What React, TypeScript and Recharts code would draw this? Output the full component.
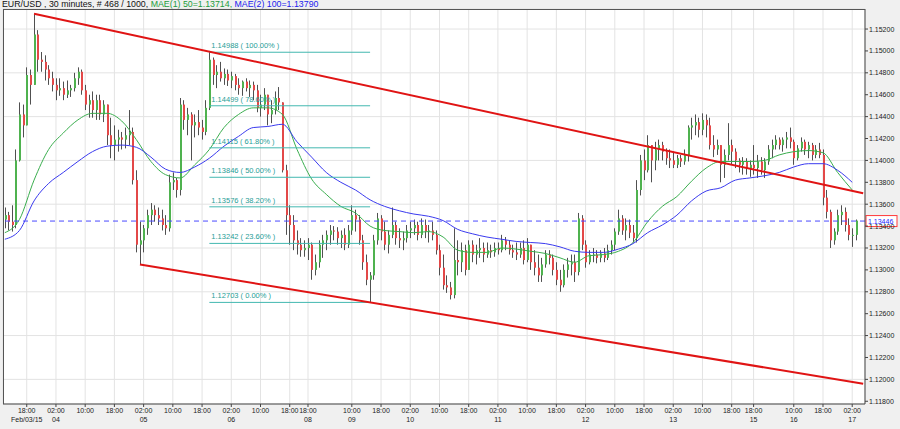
import React from "react";
import {
  ComposedChart,
  Bar,
  Line,
  XAxis,
  YAxis,
  CartesianGrid,
  ReferenceLine,
} from "recharts";

const FONT = "'Liberation Sans', Arial, sans-serif";

// hourly candles, slot 0 = Feb 03 12:00 (open of first bar, then open = previous close)
const firstOpen = 1.1346;

const closes = [
  1.1350, 1.1344, 1.1341, 1.1400, 1.1442, 1.1432, 1.1478, 1.1469, 1.1515, 1.1492,
  1.1490, 1.1483, 1.1475, 1.1469, 1.1464, 1.1466, 1.1460, 1.1464, 1.1466, 1.1475,
  1.1481, 1.1464, 1.1451, 1.1455, 1.1446, 1.1455, 1.1442, 1.1451, 1.1423, 1.1414,
  1.1419, 1.1421, 1.1419, 1.1423, 1.1426, 1.1382, 1.1323, 1.1327, 1.1338, 1.1350,
  1.1355, 1.1350, 1.1347, 1.1341, 1.1338, 1.1380, 1.1382, 1.1373, 1.1451, 1.1437,
  1.1442, 1.1432, 1.1435, 1.1430, 1.1426, 1.1448, 1.1492, 1.1478, 1.1481, 1.1475,
  1.1479, 1.1473, 1.1477, 1.1469, 1.1466, 1.1472, 1.1466, 1.1469, 1.1464, 1.1448,
  1.1451, 1.1460, 1.1442, 1.1446, 1.1457, 1.1453, 1.1391, 1.1350, 1.1341, 1.1327,
  1.1323, 1.1318, 1.1320, 1.1323, 1.1300, 1.1307, 1.1323, 1.1327, 1.1332, 1.1336,
  1.1335, 1.1329, 1.1332, 1.1323, 1.1336, 1.1350, 1.1346, 1.1327, 1.1307, 1.1291,
  1.1295, 1.1327, 1.1347, 1.1335, 1.1323, 1.1332, 1.1341, 1.1329, 1.1327, 1.1329,
  1.1336, 1.1338, 1.1341, 1.1332, 1.1341, 1.1335, 1.1336, 1.1332, 1.1318, 1.1302,
  1.1286, 1.1284, 1.1277, 1.1309, 1.1307, 1.1318, 1.1300, 1.1323, 1.1314, 1.1318,
  1.1320, 1.1314, 1.1318, 1.1316, 1.1320, 1.1318, 1.1327, 1.1323, 1.1318, 1.1316,
  1.1314, 1.1320, 1.1309, 1.1323, 1.1307, 1.1302, 1.1295, 1.1305, 1.1314, 1.1311,
  1.1300, 1.1291, 1.1286, 1.1300, 1.1305, 1.1307, 1.1298, 1.1347, 1.1323, 1.1307,
  1.1314, 1.1314, 1.1311, 1.1315, 1.1311, 1.1318, 1.1323, 1.1335, 1.1347, 1.1336,
  1.1341, 1.1334, 1.1329, 1.1373, 1.1400, 1.1391, 1.1414, 1.1400, 1.1410, 1.1414,
  1.1408, 1.1402, 1.1400, 1.1396, 1.1402, 1.1399, 1.1405, 1.1430, 1.1432, 1.1435,
  1.1428, 1.1437, 1.1432, 1.1414, 1.1410, 1.1414, 1.1396, 1.1405, 1.1414, 1.1408,
  1.1400, 1.1396, 1.1399, 1.1393, 1.1396, 1.1393, 1.1399, 1.1391, 1.1399, 1.1410,
  1.1414, 1.1419, 1.1414, 1.1419, 1.1421, 1.1417, 1.1402, 1.1411, 1.1417, 1.1410,
  1.1414, 1.1405, 1.1410, 1.1405, 1.1366, 1.1353, 1.1327, 1.1335, 1.1350, 1.1353,
  1.1341, 1.1332, 1.1332, 1.1345,
];

const highs = [
  1.1357, 1.1353, 1.1359, 1.1410, 1.1453, 1.1451, 1.1485, 1.1483, 1.1534, 1.1519,
  1.1499, 1.1496, 1.1487, 1.1481, 1.1475, 1.1475, 1.1472, 1.1473, 1.1469, 1.1480,
  1.1485, 1.1483, 1.1469, 1.1460, 1.1463, 1.1460, 1.1460, 1.1455, 1.1451, 1.1439,
  1.1432, 1.1428, 1.1426, 1.1430, 1.1446, 1.1430, 1.1391, 1.1344, 1.1341, 1.1355,
  1.1361, 1.1359, 1.1357, 1.1355, 1.1350, 1.1387, 1.1389, 1.1384, 1.1457, 1.1455,
  1.1448, 1.1444, 1.1442, 1.1446, 1.1437, 1.1455, 1.1500, 1.1494, 1.1487, 1.1490,
  1.1484, 1.1483, 1.1481, 1.1479, 1.1475, 1.1473, 1.1475, 1.1473, 1.1472, 1.1469,
  1.1460, 1.1466, 1.1460, 1.1455, 1.1463, 1.1467, 1.1453, 1.1396, 1.1359, 1.1350,
  1.1336, 1.1329, 1.1327, 1.1329, 1.1325, 1.1314, 1.1327, 1.1332, 1.1336, 1.1341,
  1.1340, 1.1339, 1.1336, 1.1338, 1.1341, 1.1359, 1.1355, 1.1350, 1.1332, 1.1314,
  1.1298, 1.1332, 1.1352, 1.1350, 1.1344, 1.1336, 1.1357, 1.1344, 1.1338, 1.1335,
  1.1341, 1.1344, 1.1346, 1.1344, 1.1347, 1.1346, 1.1341, 1.1344, 1.1336, 1.1323,
  1.1314, 1.1295, 1.1289, 1.1338, 1.1327, 1.1325, 1.1323, 1.1327, 1.1327, 1.1323,
  1.1329, 1.1325, 1.1325, 1.1323, 1.1325, 1.1325, 1.1332, 1.1330, 1.1327, 1.1323,
  1.1325, 1.1325, 1.1327, 1.1329, 1.1323, 1.1318, 1.1314, 1.1311, 1.1318, 1.1318,
  1.1314, 1.1307, 1.1300, 1.1305, 1.1311, 1.1314, 1.1314, 1.1352, 1.1350, 1.1327,
  1.1318, 1.1320, 1.1318, 1.1318, 1.1320, 1.1323, 1.1327, 1.1338, 1.1355, 1.1350,
  1.1347, 1.1346, 1.1341, 1.1382, 1.1405, 1.1410, 1.1423, 1.1414, 1.1417, 1.1419,
  1.1417, 1.1411, 1.1410, 1.1408, 1.1405, 1.1405, 1.1410, 1.1432, 1.1439, 1.1442,
  1.1439, 1.1443, 1.1442, 1.1439, 1.1423, 1.1419, 1.1414, 1.1410, 1.1434, 1.1419,
  1.1411, 1.1402, 1.1403, 1.1402, 1.1400, 1.1414, 1.1405, 1.1403, 1.1402, 1.1414,
  1.1419, 1.1423, 1.1421, 1.1421, 1.1426, 1.1430, 1.1419, 1.1414, 1.1421, 1.1419,
  1.1417, 1.1416, 1.1414, 1.1416, 1.1410, 1.1373, 1.1355, 1.1338, 1.1355, 1.1359,
  1.1357, 1.1347, 1.1338, 1.1346,
];

const lows = [
  1.1338, 1.1336, 1.1335, 1.1338, 1.1399, 1.1421, 1.1444, 1.1451, 1.1469, 1.1481,
  1.1481, 1.1473, 1.1469, 1.1463, 1.1455, 1.1459, 1.1455, 1.1457, 1.1458, 1.1463,
  1.1469, 1.1460, 1.1446, 1.1439, 1.1439, 1.1437, 1.1437, 1.1435, 1.1414, 1.1402,
  1.1400, 1.1408, 1.1410, 1.1411, 1.1414, 1.1378, 1.1316, 1.1305, 1.1316, 1.1332,
  1.1341, 1.1344, 1.1341, 1.1336, 1.1332, 1.1335, 1.1373, 1.1366, 1.1368, 1.1428,
  1.1423, 1.1400, 1.1421, 1.1423, 1.1419, 1.1423, 1.1446, 1.1469, 1.1466, 1.1472,
  1.1469, 1.1468, 1.1466, 1.1464, 1.1460, 1.1459, 1.1463, 1.1458, 1.1455, 1.1444,
  1.1440, 1.1446, 1.1432, 1.1434, 1.1442, 1.1446, 1.1389, 1.1332, 1.1323, 1.1318,
  1.1314, 1.1312, 1.1312, 1.1309, 1.1291, 1.1295, 1.1302, 1.1311, 1.1318, 1.1323,
  1.1327, 1.1323, 1.1320, 1.1318, 1.1320, 1.1332, 1.1335, 1.1323, 1.1300, 1.1286,
  1.1270, 1.1291, 1.1323, 1.1327, 1.1318, 1.1315, 1.1329, 1.1323, 1.1320, 1.1318,
  1.1325, 1.1329, 1.1332, 1.1327, 1.1329, 1.1329, 1.1325, 1.1327, 1.1314, 1.1295,
  1.1282, 1.1279, 1.1273, 1.1274, 1.1295, 1.1298, 1.1295, 1.1305, 1.1307, 1.1305,
  1.1311, 1.1307, 1.1311, 1.1311, 1.1312, 1.1314, 1.1316, 1.1318, 1.1314, 1.1311,
  1.1309, 1.1311, 1.1305, 1.1307, 1.1300, 1.1295, 1.1289, 1.1289, 1.1302, 1.1305,
  1.1295, 1.1286, 1.1280, 1.1284, 1.1293, 1.1295, 1.1289, 1.1295, 1.1318, 1.1302,
  1.1305, 1.1307, 1.1306, 1.1307, 1.1307, 1.1309, 1.1314, 1.1318, 1.1332, 1.1332,
  1.1327, 1.1329, 1.1325, 1.1325, 1.1368, 1.1382, 1.1389, 1.1380, 1.1391, 1.1400,
  1.1400, 1.1396, 1.1393, 1.1393, 1.1393, 1.1394, 1.1396, 1.1399, 1.1419, 1.1423,
  1.1421, 1.1423, 1.1421, 1.1410, 1.1403, 1.1405, 1.1380, 1.1384, 1.1400, 1.1396,
  1.1393, 1.1389, 1.1387, 1.1387, 1.1385, 1.1387, 1.1384, 1.1387, 1.1384, 1.1396,
  1.1402, 1.1410, 1.1410, 1.1408, 1.1411, 1.1411, 1.1396, 1.1400, 1.1408, 1.1405,
  1.1402, 1.1400, 1.1402, 1.1402, 1.1359, 1.1347, 1.1320, 1.1323, 1.1332, 1.1341,
  1.1335, 1.1327, 1.1321, 1.1327,
];

// moving averages, one value every 4 slots
const maStep = 4;
const ma50 = [
  1.1334, 1.1346, 1.1382, 1.1410, 1.1425, 1.1437, 1.1443, 1.1443, 1.1436, 1.1419,
  1.1399, 1.1387, 1.1384, 1.1396, 1.1410, 1.1430, 1.1442, 1.1448, 1.1448, 1.1442,
  1.1410, 1.1383, 1.1369, 1.1358, 1.1352, 1.1340, 1.1336, 1.1335, 1.1334, 1.1335,
  1.1330, 1.1318, 1.1316, 1.1316, 1.1320, 1.1319, 1.1317, 1.1315, 1.1311, 1.1307,
  1.1313, 1.1314, 1.1317, 1.1325, 1.1344, 1.1358, 1.1367, 1.1381, 1.1393, 1.1399,
  1.1399, 1.1399, 1.1400, 1.1405, 1.1408, 1.1409, 1.1407, 1.1389, 1.1373,
];
const ma100 = [
  1.1328, 1.1336, 1.1363, 1.1379, 1.1389, 1.1399, 1.1408, 1.1413, 1.1414, 1.1412,
  1.1403, 1.1392, 1.1389, 1.1394, 1.1402, 1.1413, 1.1422, 1.1430, 1.1431, 1.1433,
  1.1417, 1.1403, 1.1389, 1.1380, 1.1373, 1.1364, 1.1358, 1.1354, 1.1351, 1.1349,
  1.1345, 1.1337, 1.1333, 1.1330, 1.1328, 1.1326, 1.1325, 1.1324, 1.1321, 1.1317,
  1.1316, 1.1316, 1.1319, 1.1324, 1.1334, 1.1341, 1.1350, 1.1363, 1.1372, 1.1375,
  1.1382, 1.1384, 1.1386, 1.1389, 1.1394, 1.1397, 1.1397, 1.1391, 1.1380,
];

const slotCount = 236;

const tickSlots = [
  6, 14, 22, 30, 38, 46, 54, 62, 70, 78, 83, 95, 103, 111, 119, 127, 135, 143,
  151, 159, 167, 175, 183, 191, 199, 205, 216, 224, 232,
];
const tickTimes = [
  "18:00", "02:00", "10:00", "18:00", "02:00", "10:00", "18:00", "02:00", "10:00",
  "18:00", "18:00", "10:00", "18:00", "02:00", "10:00", "18:00", "02:00", "10:00",
  "18:00", "02:00", "10:00", "18:00", "02:00", "10:00", "18:00", "18:00", "10:00",
  "18:00", "02:00",
];
const tickDates = [
  "Feb/03/15", "04", "", "", "05", "", "", "06", "", "", "08", "09", "", "10", "",
  "", "11", "", "", "12", "", "", "13", "", "", "15", "16", "", "17",
];

const yTicks = [
  1.118, 1.12, 1.122, 1.124, 1.126, 1.128, 1.13, 1.132, 1.134, 1.136, 1.138, 1.14,
  1.142, 1.144, 1.146, 1.148, 1.15, 1.152,
];

// channel lines: [slot, price]
const upperChannel = [[8, 1.1534], [235, 1.137]];
const lowerChannel = [[37, 1.1305], [235, 1.1196]];

// fibonacci retracement from slot 56 to slot 100
const fibFrom = 56;
const fibTo = 100;
const fibLevels = [1.14988, 1.14499, 1.14115, 1.13846, 1.13576, 1.13242, 1.12703];
const fibPercents = ["100.00%", "78.60%", "61.80%", "50.00%", "38.20%", "23.60%", "0.00%"];

const lastPrice = 1.13446;

const rows = Array.from({ length: slotCount }, (_, i) => {
  const row: Record<string, any> = { i };
  if (i < closes.length) {
    const o = i === 0 ? firstOpen : closes[i - 1];
    const c = closes[i];
    const h = Math.max(highs[i], o, c);
    const l = Math.min(lows[i], o, c);
    Object.assign(row, { o, h, l, c, range: [l, h] });
  }
  if (i % maStep === 0 && i / maStep < ma50.length) {
    row.ma50 = ma50[i / maStep];
    row.ma100 = ma100[i / maStep];
  }
  upperChannel.forEach(([s, p]) => { if (s === i) row.upper = p; });
  lowerChannel.forEach(([s, p]) => { if (s === i) row.lower = p; });
  if (i === fibFrom || i === fibTo) {
    fibLevels.forEach((v, k) => { row["fib" + k] = v; });
  }
  return row;
});

const Candle = (props: any) => {
  const { x, y, width, height, payload } = props;
  if (!payload || payload.o == null) return <g />;
  const top = Math.min(y, y + height);
  const span = Math.abs(height);
  const { o, h, l, c } = payload;
  const k = h > l ? span / (h - l) : 0;
  const yO = top + (h - o) * k;
  const yC = top + (h - c) * k;
  const px = Math.floor(x + width / 2);
  const up = c >= o;
  return (
    <g>
      <line x1={px + 0.5} x2={px + 0.5} y1={top} y2={top + span} stroke="#505050" strokeWidth={1} />
      <rect
        x={px}
        y={Math.min(yO, yC)}
        width={2}
        height={Math.max(1, Math.abs(yC - yO))}
        fill={up ? "#4fb24f" : "#e34848"}
      />
    </g>
  );
};

const TimeTick = (props: any) => {
  const { x, y, payload } = props;
  const k = tickSlots.indexOf(payload.value);
  if (k < 0) return <g />;
  return (
    <g fontFamily={FONT} fontSize={7} fill="#222">
      <text x={x} y={y + 4} textAnchor="middle">{tickTimes[k]}</text>
      <text x={x} y={y + 13} textAnchor="middle">{tickDates[k]}</text>
    </g>
  );
};

const PriceTag = (props: any) => {
  const vb = props.viewBox || {};
  const x = vb.x + vb.width + 1;
  const y = vb.y;
  return (
    <g>
      <rect x={x} y={y - 5.5} width={31} height={11} fill="#fff" stroke="#ff3b3b" strokeWidth={1} />
      <text x={x + 2} y={y + 2.5} fontSize={7} fontFamily={FONT} fill="#2424ff">
        {lastPrice.toFixed(5)}
      </text>
    </g>
  );
};

const fibLabel = (k: number) => (p: any) => {
  if (p.index !== fibFrom) return <g />;
  return (
    <text x={p.x + 2} y={p.y - 4} fontSize={7.5} fontFamily={FONT} fill="#1f9e97">
      {`${fibLevels[k].toFixed(5)} ( ${fibPercents[k]} )`}
    </text>
  );
};

export default function App() {
  return (
    <div style={{ position: "relative", width: 900, height: 429, background: "#f0f0f0", fontFamily: FONT }}>
      <style>{`body{margin:0}`}</style>
      <div style={{ position: "absolute", left: 2, top: -1, fontSize: 8.8, lineHeight: "10px", whiteSpace: "nowrap", color: "#111" }}>
        EUR/USD , 30 minutes, # 468 / 1000,{" "}
        <span style={{ color: "#1c9c3c" }}>MAE(1) 50=1.13714,</span>{" "}
        <span style={{ color: "#2222ee" }}>MAE(2) 100=1.13790</span>
      </div>
      <ComposedChart
        width={900}
        height={429}
        data={rows}
        margin={{ top: 9, right: 0, bottom: 0, left: 3 }}
        barCategoryGap={0}
        barGap={0}
      >
        <CartesianGrid stroke="#e3e3e3" fill="#ffffff" />
        <XAxis
          dataKey="i"
          type="category"
          ticks={tickSlots}
          interval={0}
          height={25}
          tick={<TimeTick />}
          tickSize={3}
          tickMargin={2}
          axisLine={{ stroke: "#444" }}
          tickLine={{ stroke: "#444" }}
        />
        <YAxis
          orientation="right"
          width={35}
          domain={[1.11775, 1.15383]}
          ticks={yTicks}
          allowDataOverflow
          tickFormatter={(v: number) => v.toFixed(5)}
          tick={{ fontSize: 7, fill: "#222", fontFamily: FONT }}
          tickSize={3}
          tickMargin={1}
          axisLine={{ stroke: "#444" }}
          tickLine={{ stroke: "#444" }}
        />
        <Bar dataKey="range" shape={<Candle />} isAnimationActive={false} />
        <Line type="monotone" dataKey="ma50" stroke="#3aae4e" strokeWidth={1} dot={false} connectNulls isAnimationActive={false} />
        <Line type="monotone" dataKey="ma100" stroke="#3a3aef" strokeWidth={1} dot={false} connectNulls isAnimationActive={false} />
        {fibLevels.map((_, k) => (
          <Line
            key={k}
            type="linear"
            dataKey={"fib" + k}
            stroke="#43b8b0"
            strokeWidth={1}
            dot={false}
            connectNulls
            isAnimationActive={false}
            label={fibLabel(k)}
          />
        ))}
        <Line type="linear" dataKey="upper" stroke="#e01414" strokeWidth={2} dot={false} connectNulls isAnimationActive={false} />
        <Line type="linear" dataKey="lower" stroke="#e01414" strokeWidth={2} dot={false} connectNulls isAnimationActive={false} />
        <ReferenceLine
          y={lastPrice}
          stroke="#4a4aff"
          strokeDasharray="5 4"
          strokeWidth={1}
          label={<PriceTag />}
        />
      </ComposedChart>
      <div
        style={{
          position: "absolute",
          left: 3,
          top: 9,
          width: 862,
          height: 395,
          borderLeft: "1px solid #555",
          borderTop: "1px solid #555",
          boxSizing: "border-box",
          pointerEvents: "none",
        }}
      />
    </div>
  );
}
